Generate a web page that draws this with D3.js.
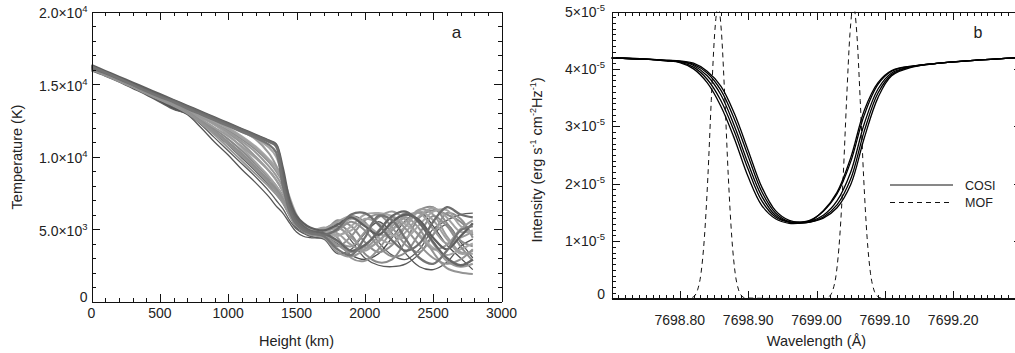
<!DOCTYPE html>
<html>
<head>
<meta charset="utf-8">
<script src="https://d3js.org/d3.v7.min.js"></script>
<style>
  body { margin: 0; background: #fff; }
  svg text { font-family: "Liberation Sans", Arial, Helvetica, sans-serif; fill: #222; }
</style>
</head>
<body>
<svg id="chart" width="1015" height="353"></svg>
<script>
// ---- panel a: temperature vs height (temperatures in 10^3 K)
var heightKm = [0,100,200,300,400,500,600,700,800,900,1000,1100,1200,1300,1350,1400,1450,1500,1550,1600,
                1700,1800,1900,2000,2100,2200,2300,2400,2500,2600,2700,2790];

var tempLow = [
  [16.0,15.6,15.2,14.75,14.3,13.8,13.3, 12.9,12.0,11.0,10.1,9.1,8.2,7.2,6.6,6.1,5.4,4.8,4.5,4.4, 4.3,3.3,3.6,4.7,5.5,4.7,3.3,2.4,2.2,2.7,3.8,4.3],
  [15.9,15.55,15.15,14.7,14.25,13.75,13.25, 12.95,12.2,11.3,10.4,9.5,8.6,7.6,7.0,6.4,5.6,5.0,4.7,4.5, 4.4,4.9,5.9,5.5,4.1,3.2,2.9,3.6,5.0,5.6,6.0,6.1],
  [16.0,15.6,15.2,14.8,14.35,13.85,13.35, 13.0,12.35,11.6,10.8,9.9,9.0,8.0,7.4,6.8,5.9,5.1,4.8,4.6, 4.5,4.0,3.2,2.9,3.3,4.4,5.6,6.2,5.2,3.9,3.0,2.2],
  [16.1,15.7,15.3,14.85,14.4,13.9,13.4, 13.05,12.5,11.8,11.0,10.2,9.3,8.3,7.8,7.1,6.1,5.3,4.9,4.7, 4.7,5.2,4.2,3.0,2.5,2.4,2.6,3.3,4.6,5.3,4.1,3.0]
];
var tempMid = [
  [16.1,15.7,15.3,14.9,14.5,14.1,13.7, 13.25,12.8,12.3,11.8,11.2,10.5,9.6,9.0,8.2,6.8,5.8,5.2,4.9, 4.8,5.6,5.2,4.1,3.4,3.9,5.2,6.3,6.5,5.4,4.2,3.8],
  [16.2,15.8,15.35,14.9,14.45,14.05,13.65, 13.2,12.7,12.2,11.6,10.9,10.0,9.0,8.4,7.6,6.5,5.6,5.1,4.85, 4.9,4.4,3.0,2.8,3.6,4.9,5.8,5.0,3.4,2.3,2.0,1.9],
  [16.0,15.6,15.2,14.8,14.4,14.0,13.6, 13.1,12.5,11.9,11.2,10.4,9.5,8.5,8.0,7.3,6.2,5.4,5.0,4.8, 5.0,5.4,4.6,3.3,2.7,2.9,4.2,5.8,6.3,6.0,5.5,4.6],
  [16.1,15.7,15.25,14.8,14.35,13.9,13.5, 13.0,12.4,11.7,10.9,10.1,9.2,8.2,7.7,7.0,6.0,5.3,4.95,4.7, 4.6,3.8,4.5,5.6,6.0,5.1,3.9,3.4,4.6,6.1,5.7,4.4],
  [16.2,15.8,15.4,14.95,14.5,14.1,13.7, 13.25,12.75,12.2,11.5,10.6,9.6,8.6,8.0,7.2,6.2,5.5,5.1,4.9, 5.1,5.0,5.7,5.3,4.4,4.0,4.8,5.9,6.45,5.8,4.8,4.9],
  [16.0,15.6,15.2,14.8,14.35,13.95,13.55, 13.0,12.3,11.5,10.6,9.7,8.8,7.9,7.4,6.8,5.9,5.2,4.85,4.6, 4.4,3.4,3.1,3.6,4.5,5.4,6.1,5.5,4.0,2.8,2.4,2.6],
  [16.2,15.8,15.4,15.0,14.55,14.15,13.8, 13.4,12.95,12.5,12.0,11.4,10.7,9.8,9.3,8.6,7.2,6.0,5.3,5.0, 4.8,4.5,5.2,6.0,6.1,5.9,5.3,4.6,3.7,3.2,3.6,4.0],
  [16.1,15.7,15.3,14.9,14.45,14.05,13.6, 13.15,12.6,12.0,11.4,10.7,9.9,9.0,8.4,7.6,6.4,5.6,5.1,4.85, 4.9,4.7,3.9,3.5,4.2,5.0,5.5,6.35,6.0,4.5,3.4,3.3],
  [16.15,15.75,15.35,14.9,14.45,14.05,13.65, 13.2,12.75,12.25,11.7,11.05,10.3,9.3,8.7,7.9,6.6,5.7,5.15,4.9, 4.7,4.1,3.8,4.8,5.8,6.2,5.6,4.5,3.6,3.9,5.0,5.6],
  [16.05,15.65,15.25,14.85,14.4,14.0,13.6, 13.1,12.45,11.75,11.0,10.2,9.3,8.3,7.8,7.1,6.1,5.35,5.0,4.75, 4.6,4.9,5.5,4.9,3.8,3.1,3.4,4.7,5.9,5.2,3.8,2.8],
  [16.2,15.8,15.4,14.95,14.5,14.1,13.75, 13.3,12.85,12.4,11.9,11.3,10.6,9.7,9.1,8.3,6.9,5.9,5.25,4.95, 5.0,5.5,5.9,5.4,4.7,4.5,5.2,6.2,5.6,4.3,3.3,3.5],
  [16.1,15.7,15.3,14.85,14.4,13.95,13.55, 13.05,12.4,11.65,10.85,10.0,9.1,8.1,7.6,6.9,6.0,5.3,4.9,4.65, 4.5,3.9,3.4,3.8,4.9,5.8,5.0,3.9,3.0,2.6,2.9,3.6],
  [16.2,15.8,15.4,15.0,14.6,14.2,13.8, 13.4,13.0,12.6,12.2,11.75,11.2,10.2,9.4,8.3,6.8,5.8,5.25,4.95, 4.8,5.1,4.4,3.7,4.1,5.2,5.9,6.1,5.0,4.0,4.4,4.8],
  [16.25,15.85,15.45,15.05,14.65,14.25,13.85, 13.45,13.05,12.6,12.15,11.7,11.25,10.6,10.0,8.6,6.9,5.8,5.3,5.0, 4.9,4.6,4.9,5.7,5.4,4.6,4.4,5.3,6.2,6.3,5.2,4.7]
];
var tempHigh = [
  [16.3,15.9,15.5,15.1,14.7,14.3,13.9, 13.5,13.1,12.7,12.3,11.9,11.5,11.1,10.85,9.2,7.0,5.9,5.4,5.1, 4.9,5.3,5.8,5.2,4.6,5.5,6.0,5.6,4.4,3.6,4.5,5.4],
  [16.2,15.8,15.4,15.0,14.6,14.2,13.85, 13.45,13.05,12.65,12.25,11.85,11.45,11.05,10.8,8.8,6.7,5.7,5.2,4.9, 4.7,4.2,3.5,3.9,4.8,5.9,6.2,5.4,4.1,3.0,2.5,2.9],
  [16.1,15.75,15.35,14.95,14.55,14.15,13.8, 13.4,13.0,12.6,12.2,11.8,11.4,11.0,10.7,8.4,6.4,5.5,5.05,4.8, 4.6,5.0,6.0,6.1,5.3,4.2,3.5,4.0,5.5,6.5,6.0,5.8],
  [16.2,15.8,15.4,14.95,14.5,14.1,13.75, 13.3,12.9,12.5,12.1,11.7,11.3,10.8,10.3,8.0,6.2,5.3,4.9,4.7, 4.5,3.6,3.2,4.4,5.9,5.6,4.3,3.0,2.6,3.5,4.9,5.2]
];

var heightTicks = [0,500,1000,1500,2000,2500,3000];
var tempTicks = [0,5000,10000,15000,20000];
var tempTickMant = ["0","5.0","1.0","1.5","2.0"];
var tempTickExp = ["","3","4","4","4"];

// ---- panel b: line profiles (intensity in 10^-5 erg s-1 cm-2 Hz-1)
var wavelength = [7698.70,7698.75,7698.78,7698.80,7698.82,7698.84,7698.86,7698.88,7698.90,7698.92,7698.94,7698.96,
                  7698.975,7698.99,7699.01,7699.03,7699.05,7699.07,7699.09,7699.11,7699.14,7699.18,7699.22,7699.26,7699.30];
var cosiProfiles = [
  [4.19,4.17,4.15,4.13,4.06,3.88,3.55,3.0,2.35,1.78,1.45,1.33,1.32,1.34,1.45,1.7,2.2,3.05,3.65,3.93,4.04,4.1,4.14,4.17,4.2],
  [4.19,4.17,4.14,4.11,4.0,3.76,3.35,2.78,2.12,1.62,1.39,1.31,1.31,1.33,1.40,1.58,1.98,2.8,3.5,3.88,4.03,4.1,4.14,4.17,4.2],
  [4.19,4.17,4.15,4.14,4.1,3.96,3.7,3.22,2.58,1.94,1.53,1.36,1.33,1.35,1.53,1.85,2.45,3.28,3.76,3.97,4.05,4.1,4.14,4.17,4.2],
  [4.19,4.17,4.14,4.12,4.03,3.82,3.45,2.9,2.25,1.7,1.42,1.33,1.33,1.36,1.52,1.82,2.38,3.2,3.73,3.96,4.05,4.1,4.14,4.17,4.2],
  [4.19,4.17,4.15,4.13,4.08,3.93,3.63,3.12,2.48,1.86,1.49,1.34,1.32,1.33,1.42,1.63,2.08,2.92,3.58,3.9,4.04,4.1,4.14,4.17,4.2]
];
var mofWave = [7698.70,7698.81,
  7698.816,7698.821,7698.826,7698.831,7698.836,7698.841,7698.846,7698.851,7698.856,
  7698.861,7698.866,7698.871,7698.876,7698.881,7698.886,7698.891,7698.896,
  7698.95,7699.01,
  7699.014,7699.019,7699.024,7699.029,7699.034,7699.039,7699.044,7699.049,7699.054,
  7699.059,7699.064,7699.069,7699.074,7699.079,7699.084,7699.089,7699.094,
  7699.10,7699.30];
var mofIntensity = [0,0,
  0.01,0.04,0.15,0.44,1.07,2.11,3.45,4.62,5.1,4.62,3.45,2.11,1.07,0.44,0.15,0.04,0.01,
  0,0,
  0.01,0.04,0.15,0.44,1.07,2.11,3.45,4.62,5.1,4.62,3.45,2.11,1.07,0.44,0.15,0.04,0.01,
  0,0];

var waveTicks = [7698.80,7698.90,7699.00,7699.10,7699.20];
var intTicks = [0,1e-5,2e-5,3e-5,4e-5,5e-5];
var intTickMant = ["0","1","2","3","4","5"];
var intTickExp = ["","-5","-5","-5","-5","-5"];
var legendNames = ["COSI","MOF"];

var svg = d3.select("#chart");

var xA = d3.scaleLinear().domain([0,3000]).range([91.5,501.5]);
var yA = d3.scaleLinear().domain([0,20000]).range([301.5,11.5]);
var xB = d3.scaleLinear().domain([7698.70,7699.30]).range([611.5,1021.5]);
var yB = d3.scaleLinear().domain([0,5e-5]).range([298.5,11.5]);

function frame(x, y, xMaj, xMin, yMaj, yMin, bottomWidth) {
  var g = svg.append("g").attr("color","#111").style("shape-rendering","crispEdges");
  var y0 = y.range()[0], y1 = y.range()[1], x0 = x.range()[0], x1 = x.range()[1];
  function side(axis, tr, vals, len, keepDomain) {
    var a = g.append("g").attr("transform", tr)
      .call(axis.tickValues(vals).tickSizeInner(-len).tickSizeOuter(0).tickFormat(""));
    if (!keepDomain) a.select(".domain").remove();
    return a;
  }
  var b = side(d3.axisBottom(x), "translate(0,"+y0+")", xMaj, 8, true);
  b.select(".domain").attr("stroke-width", bottomWidth);
  side(d3.axisBottom(x), "translate(0,"+y0+")", xMin, 4, false);
  side(d3.axisTop(x), "translate(0,"+y1+")", xMaj, 8, true);
  side(d3.axisTop(x), "translate(0,"+y1+")", xMin, 4, false);
  side(d3.axisLeft(y), "translate("+x0+",0)", yMaj, 8, true);
  side(d3.axisLeft(y), "translate("+x0+",0)", yMin, 4, false);
  side(d3.axisRight(y), "translate("+x1+",0)", yMaj, 8, true);
  side(d3.axisRight(y), "translate("+x1+",0)", yMin, 4, false);
}

// tick label like 1.5x10^4
function sciLabel(sel, mant, exp) {
  if (!exp) { sel.text(mant); return; }
  sel.append("tspan").text(mant + "\u00d710");
  sel.append("tspan").attr("dy", -6).attr("font-size", 9.5).text(exp);
}

// ---------- panel a
var lineA = d3.line().x(function(d, i){ return xA(heightKm[i]); })
                     .y(function(d){ return yA(d * 1000); })
                     .curve(d3.curveCatmullRom.alpha(0.5));

var gA = svg.append("g");
var lowGrey = ["#555","#5c5c5c","#4f4f4f","#595959"];
var midGrey = ["#8c8c8c","#949494","#8a8a8a","#909090","#a2a2a2","#979797","#a8a8a8","#9c9c9c",
               "#999","#8e8e8e","#a0a0a0","#929292","#9a9a9a","#a4a4a4"];
var highGrey = ["#5e5e5e","#666","#6e6e6e","#747474"];
tempLow.forEach(function(c, i){
  gA.append("path").attr("d", lineA(c)).attr("fill","none").attr("stroke", lowGrey[i]).attr("stroke-width",1.3);
});
tempMid.forEach(function(c, i){
  gA.append("path").attr("d", lineA(c)).attr("fill","none").attr("stroke", midGrey[i]).attr("stroke-width",2);
});
tempHigh.forEach(function(c, i){
  gA.append("path").attr("d", lineA(c)).attr("fill","none").attr("stroke", highGrey[i]).attr("stroke-width",2.3);
});

frame(xA, yA, heightTicks, d3.range(0,3001,100), tempTicks, d3.range(0,20001,1000), 1);

svg.append("g").selectAll("text").data(heightTicks).join("text")
  .attr("x", function(d){ return xA(d); }).attr("y", 318)
  .attr("text-anchor","middle").attr("font-size",14).text(function(d){ return d; });
svg.append("g").selectAll("text").data(tempTicks).join("text")
  .attr("x", 87.5).attr("y", function(d, i){ return yA(d) + (tempTickExp[i] ? 6.5 : 0.5); })
  .attr("text-anchor","end").attr("font-size",14)
  .each(function(d, i){ sciLabel(d3.select(this), tempTickMant[i], tempTickExp[i]); });

svg.append("text").attr("x", 296.5).attr("y", 346).attr("text-anchor","middle")
  .attr("font-size",14.5).text("Height (km)");
svg.append("text").attr("transform","translate(21.5,157) rotate(-90)").attr("text-anchor","middle")
  .attr("font-size",14.5).text("Temperature (K)");
svg.append("text").attr("x", 456.5).attr("y", 38).attr("text-anchor","middle")
  .attr("font-size",17).text("a");

// ---------- panel b
svg.append("clipPath").attr("id","clipB").append("rect")
  .attr("x", 611.5).attr("y", 11.5).attr("width", 410).attr("height", 287);

var lineB = d3.line().x(function(d, i){ return xB(wavelength[i]); })
                     .y(function(d){ return yB(d * 1e-5); })
                     .curve(d3.curveCatmullRom.alpha(0.5));
var lineMof = d3.line().x(function(d, i){ return xB(mofWave[i]); })
                       .y(function(d){ return yB(d * 1e-5); })
                       .curve(d3.curveMonotoneX);

var gB = svg.append("g").attr("clip-path","url(#clipB)");
gB.append("path").attr("d", lineMof(mofIntensity)).attr("fill","none")
  .attr("stroke","#111").attr("stroke-width",1).attr("stroke-dasharray","5,4");
cosiProfiles.forEach(function(c){
  gB.append("path").attr("d", lineB(c)).attr("fill","none").attr("stroke","#000").attr("stroke-width",1.3);
});

frame(xB, yB, d3.range(0,7).map(function(i){ return 7698.70 + i*0.1; }),
      d3.range(0,61).map(function(i){ return 7698.70 + i*0.01; }),
      intTicks, d3.range(0,51).map(function(i){ return i*1e-6; }), 2);

svg.append("g").selectAll("text").data(waveTicks).join("text")
  .attr("x", function(d){ return xB(d); }).attr("y", 325)
  .attr("text-anchor","middle").attr("font-size",14).text(function(d){ return d.toFixed(2); });
svg.append("g").selectAll("text").data(intTicks).join("text")
  .attr("x", 605).attr("y", function(d, i){ return yB(d) + (intTickExp[i] ? 5 : 0); })
  .attr("text-anchor","end").attr("font-size",14)
  .each(function(d, i){ sciLabel(d3.select(this), intTickMant[i], intTickExp[i]); });

svg.append("text").attr("x", 816.5).attr("y", 346).attr("text-anchor","middle")
  .attr("font-size",14.5).text("Wavelength (\u00c5)");
var yt = svg.append("text").attr("transform","translate(541.5,160) rotate(-90)").attr("text-anchor","middle")
  .attr("font-size",14.5);
yt.append("tspan").text("Intensity (erg s");
yt.append("tspan").attr("dy",-5.5).attr("font-size",9).text("-1");
yt.append("tspan").attr("dy",5.5).text(" cm");
yt.append("tspan").attr("dy",-5.5).attr("font-size",9).text("-2");
yt.append("tspan").attr("dy",5.5).text("Hz");
yt.append("tspan").attr("dy",-5.5).attr("font-size",9).text("-1");
yt.append("tspan").attr("dy",5.5).text(")");
svg.append("text").attr("x", 978).attr("y", 38).attr("text-anchor","middle")
  .attr("font-size",16).text("b");

// legend
var leg = svg.append("g");
legendNames.forEach(function(name, i){
  var ly = 185 + i*17.5;
  leg.append("line").attr("x1", 890).attr("x2", 953).attr("y1", ly).attr("y2", ly)
    .attr("stroke","#111").attr("stroke-width",1)
    .attr("stroke-dasharray", i === 1 ? "5,4" : null);
  leg.append("text").attr("x", 965).attr("y", ly + 4.5).attr("font-size",12.5).text(name);
});
</script>
</body>
</html>
